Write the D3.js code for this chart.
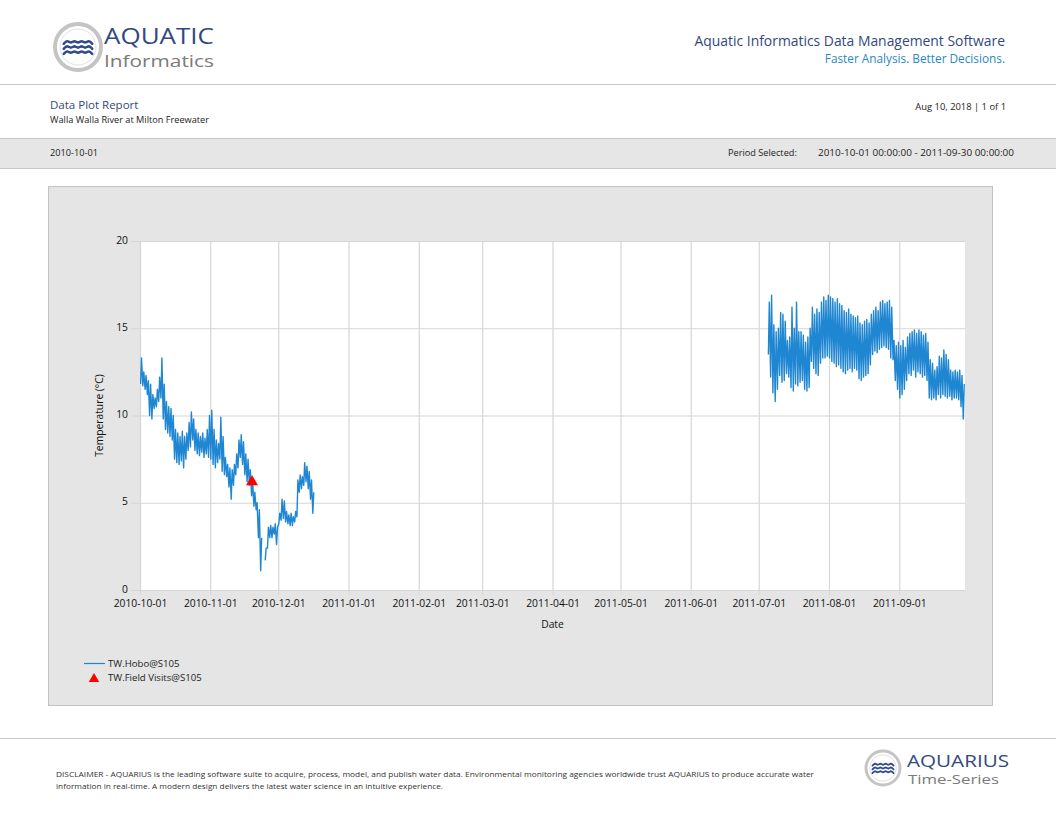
<!DOCTYPE html>
<html>
<head>
<meta charset="utf-8">
<script src="https://cdn.jsdelivr.net/npm/d3@7"></script>
<style>
  html, body { margin: 0; padding: 0; background: #fff; }
  svg { display: block; }
  text { font-family: "Open Sans", "Noto Sans", sans-serif; }
</style>
</head>
<body>
<div id="page"></div>
<script>
// TW.Hobo@S105, daily high / low (°C); null = no record
const fallStart = "2010-10-01";
const fallHigh = [13.3, 12.5, 12.3, 12.0, 11.8, 11.2, 11.0, 11.5, 12.2, 13.3,
  11.8, 10.8, 10.5, 10.4, 10.0, 9.2, 9.0, 8.8, 9.1, 8.8,
  9.0, 9.6, 10.2, 9.8, 9.2, 9.0, 8.8, 9.0, 8.7, 9.2,
  10.0, 10.3, 9.2, 8.6, 8.4, 9.9, 8.8, 7.6, 7.2, 7.0,
  6.9, 7.2, 7.8, 8.6, 8.9, 8.5, 7.8, 7.5, 6.9, 6.3,
  5.6, 5.0, 4.6, 3.0, null, 2.4, 3.6, 3.7, 3.6, 3.8,
  3.6, 4.4, 5.2, 5.1, 4.5, 4.3, 4.4, 4.2, 4.5, 6.3,
  6.6, 6.5, 7.3, 7.1, 6.8, 6.3, 5.6];
const fallLow = [11.8, 11.7, 11.5, 11.2, 10.0, 9.8, 10.4, 10.5, 10.8, 11.0,
  9.8, 9.2, 9.0, 8.8, 8.6, 7.5, 7.3, 7.2, 7.4, 7.0,
  7.5, 8.0, 8.2, 8.6, 8.0, 7.8, 7.7, 7.9, 7.6, 7.8,
  7.6, 7.5, 7.2, 7.0, 7.3, 7.5, 6.8, 6.6, 6.5, 5.9,
  5.2, 6.0, 6.6, 7.0, 7.6, 7.2, 6.6, 6.2, 6.0, 5.4,
  4.8, 4.6, 3.0, 1.1, null, 1.7, 2.4, 3.0, 3.0, 3.2,
  2.6, 3.8, 4.0, 4.1, 3.9, 3.8, 3.7, 3.7, 3.9, 4.2,
  5.6, 5.8, 6.0, 6.2, 5.8, 5.2, 4.4];

const summerStart = "2011-07-05";
const summerHigh = [16.5, 16.9, 15.2, 14.8, 15.0, 15.9, 15.8, 15.4, 14.3, 14.5,
  16.2, 15.0, 16.5, 14.8, 14.8, 14.6, 14.2, 14.5, 15.0, 16.2,
  15.8, 16.1, 15.9, 16.5, 16.8, 16.6, 16.9, 16.8, 16.7, 16.5,
  16.7, 16.4, 16.3, 16.0, 15.9, 16.1, 15.8, 15.7, 15.6, 15.7,
  15.3, 15.2, 15.4, 15.5, 15.3, 15.8, 16.0, 16.2, 16.0, 16.5,
  16.6, 16.4, 16.5, 16.6, 16.2, 14.3, 14.0, 14.2, 14.0, 14.3,
  13.9, 14.5, 14.7, 14.8, 14.9, 14.7, 14.9, 14.8, 14.6, 14.7,
  14.2, 13.2, 13.0, 12.6, 12.8, 13.4, 13.3, 13.75, 13.5, 13.2,
  12.6, 12.5, 12.6, 12.5, 12.6, 12.3, 11.8];
const summerLow = [13.5, 12.2, 11.3, 10.8, 11.5, 12.3, 11.9, 12.0, 12.4, 12.2,
  11.6, 11.4, 11.8, 11.7, 11.9, 12.0, 11.5, 11.4, 11.6, 13.1,
  12.7, 12.4, 12.3, 13.0, 13.3, 13.3, 13.4, 13.3, 13.1, 13.0,
  12.8, 12.9, 12.7, 12.5, 12.4, 12.6, 12.7, 12.5, 12.7, 12.6,
  12.1, 12.0, 12.2, 12.3, 12.4, 12.9, 13.5, 13.7, 13.6, 13.8,
  13.9, 14.0, 13.9, 13.8, 13.3, 13.2, 12.0, 11.5, 11.0, 11.2,
  11.5, 12.0, 12.4, 12.3, 12.6, 12.2, 12.5, 12.4, 12.2, 12.3,
  12.0, 11.0, 10.9, 11.0, 10.9, 11.2, 11.0, 11.2, 11.1, 11.0,
  11.1, 10.9, 11.0, 11.0, 10.9, 10.5, 9.8];

// TW.Field Visits@S105
const visitDates = ["2010-11-19T10:00"];
const visitValues = [6.2];

// axes
const periodStart = "2010-10-01";
const periodEnd = "2011-09-30";
const monthTicks = ["2010-10-01", "2010-11-01", "2010-12-01", "2011-01-01", "2011-02-01",
  "2011-03-01", "2011-04-01", "2011-05-01", "2011-06-01", "2011-07-01", "2011-08-01", "2011-09-01"];
const yTicks = [0, 5, 10, 15, 20];

const disclaimerLines = [
  "DISCLAIMER - AQUARIUS is the leading software suite to acquire, process, model, and publish water data. Environmental monitoring agencies worldwide trust AQUARIUS to produce accurate water",
  "information in real-time. A modern design delivers the latest water science in an intuitive experience."
];

// ---- page ----
const W = 1056, H = 816;
const navy = "#33487e", blue = "#1f86d2";
const parseDay = d3.utcParse("%Y-%m-%d");
const parseStamp = d3.utcParse("%Y-%m-%dT%H:%M");

const svg = d3.select("#page").append("svg")
  .attr("width", W).attr("height", H);

// logo: ring with three waves
function logo(g, cx, cy, r) {
  g.append("circle").attr("cx", cx).attr("cy", cy).attr("r", r)
    .attr("fill", "#fff").attr("stroke", "#c4c4c4").attr("stroke-width", r * 0.17);
  g.append("circle").attr("cx", cx).attr("cy", cy).attr("r", r * 0.78)
    .attr("fill", "none").attr("stroke", "#e2e2e2").attr("stroke-width", 1);
  const wave = d3.line().curve(d3.curveBasis);
  [-0.22, 0, 0.22].forEach(off => {
    const pts = d3.range(0, 9).map(i => [cx - r * 0.62 + i * r * 0.155, cy + off * r + (i % 2 ? -1 : 1) * r * 0.08]);
    g.append("path").attr("d", wave(pts)).attr("fill", "none")
      .attr("stroke", "#2e4a8c").attr("stroke-width", r * 0.11).attr("stroke-linecap", "round");
  });
}

const head = svg.append("g");
logo(head, 78, 47, 23);
head.append("text").attr("x", 104).attr("y", 44).text("AQUATIC")
  .attr("font-family", "'Liberation Serif', 'DejaVu Serif', serif").attr("font-size", 22)
  .attr("fill", navy).attr("textLength", 110).attr("lengthAdjust", "spacingAndGlyphs");
head.append("text").attr("x", 104).attr("y", 66.5).text("Informatics")
  .attr("font-family", "'Liberation Sans', sans-serif").attr("font-size", 16.5)
  .attr("fill", "#7a7a7a").attr("textLength", 110).attr("lengthAdjust", "spacingAndGlyphs");
head.append("text").attr("x", 1005).attr("y", 46).attr("text-anchor", "end")
  .text("Aquatic Informatics Data Management Software").attr("font-size", 13.9).attr("fill", navy);
head.append("text").attr("x", 1005).attr("y", 63).attr("text-anchor", "end")
  .text("Faster Analysis. Better Decisions.").attr("font-size", 11.8).attr("fill", "#2a88c2");
head.append("line").attr("x1", 0).attr("x2", W).attr("y1", 84.5).attr("y2", 84.5).attr("stroke", "#c6c6c6");

head.append("text").attr("x", 50).attr("y", 109).text("Data Plot Report").attr("font-size", 11.5).attr("fill", navy);
head.append("text").attr("x", 50).attr("y", 123).text("Walla Walla River at Milton Freewater")
  .attr("font-size", 9.2).attr("fill", "#222");
head.append("text").attr("x", 1006).attr("y", 110).attr("text-anchor", "end")
  .text("Aug 10, 2018 | 1 of 1").attr("font-size", 9.4).attr("fill", "#222");

head.append("rect").attr("x", -1).attr("y", 138.5).attr("width", W + 2).attr("height", 30)
  .attr("fill", "#e6e6e6").attr("stroke", "#c8c8c8");
head.append("text").attr("x", 50).attr("y", 156).text(periodStart).attr("font-size", 9.2).attr("fill", "#222");
head.append("text").attr("x", 728).attr("y", 156).text("Period Selected:").attr("font-size", 9.2).attr("fill", "#222");
head.append("text").attr("x", 818).attr("y", 156).text(periodStart + " 00:00:00 - " + periodEnd + " 00:00:00")
  .attr("font-size", 9.2).attr("fill", "#222").attr("textLength", 196).attr("lengthAdjust", "spacingAndGlyphs");

// ---- chart panel ----
svg.append("rect").attr("x", 48.5).attr("y", 186.5).attr("width", 944).attr("height", 519)
  .attr("fill", "#e5e5e5").attr("stroke", "#c2c2c2");

const plot = { left: 140, right: 965, top: 241, bottom: 590 };
const x = d3.scaleUtc().domain([parseDay(periodStart), parseDay(periodEnd)]).range([plot.left, plot.right]);
const y = d3.scaleLinear().domain([0, 20]).range([plot.bottom, plot.top]);

svg.append("rect").attr("x", plot.left).attr("y", plot.top)
  .attr("width", plot.right - plot.left).attr("height", plot.bottom - plot.top).attr("fill", "#fff");

const gridColor = "#d6d6d6";
const xAxis = svg.append("g").attr("transform", `translate(0,${plot.bottom})`)
  .call(d3.axisBottom(x).tickValues(monthTicks.map(parseDay))
    .tickFormat(d3.utcFormat("%Y-%m-%d")).tickSizeInner(-(plot.bottom - plot.top)).tickSizeOuter(0).tickPadding(10));
const yAxis = svg.append("g").attr("transform", `translate(${plot.left},0)`)
  .call(d3.axisLeft(y).tickValues(yTicks).tickSizeInner(-(plot.right - plot.left)).tickSizeOuter(0).tickPadding(12));
[xAxis, yAxis].forEach(a => {
  a.select(".domain").remove();
  a.selectAll(".tick line").attr("stroke", gridColor).attr("stroke-width", 1.2);
  a.selectAll(".tick text").attr("font-size", 10.3).attr("fill", "#111")
    .attr("font-family", "'Open Sans', sans-serif");
});
yAxis.selectAll(".tick text").attr("dy", "0.2em");
// short outer tick marks
yAxis.selectAll(".tick").append("line").attr("x1", -9).attr("x2", 0).attr("stroke", gridColor);
xAxis.selectAll(".tick").append("line").attr("y1", 0).attr("y2", 5).attr("stroke", gridColor);

svg.append("text").attr("x", (plot.left + plot.right) / 2).attr("y", 628).attr("text-anchor", "middle")
  .text("Date").attr("font-size", 10.3).attr("fill", "#111");
svg.append("text").attr("transform", `translate(103,${(plot.top + plot.bottom) / 2}) rotate(-90)`)
  .attr("text-anchor", "middle").text("Temperature (°C)").attr("font-size", 10.3).attr("fill", "#111");

// diurnal trace: daily low near dawn, daily high in late afternoon
function dailyTrace(start, high, low) {
  const t0 = parseDay(start);
  const pts = [];
  high.forEach((h, i) => {
    const day = d3.utcDay.offset(t0, i);
    pts.push({ t: d3.utcHour.offset(day, 6), v: low[i] });
    pts.push({ t: d3.utcHour.offset(day, 16), v: h });
  });
  return pts;
}

const line = d3.line()
  .defined(d => d.v != null)
  .x(d => x(d.t)).y(d => y(d.v));

svg.append("clipPath").attr("id", "plotClip").append("rect")
  .attr("x", plot.left).attr("y", plot.top - 2).attr("width", plot.right - plot.left).attr("height", plot.bottom - plot.top + 2);

const series = svg.append("g").attr("clip-path", "url(#plotClip)");
[dailyTrace(fallStart, fallHigh, fallLow), dailyTrace(summerStart, summerHigh, summerLow)].forEach(pts => {
  series.append("path").datum(pts).attr("d", line)
    .attr("fill", "none").attr("stroke", blue).attr("stroke-width", 1.4).attr("stroke-linejoin", "round");
});

const tri = d3.symbol().type(d3.symbolTriangle).size(62);
svg.append("g").selectAll("path").data(visitDates.map((d, i) => ({ t: parseStamp(d), v: visitValues[i] })))
  .join("path")
  .attr("transform", d => `translate(${x(d.t)},${y(d.v)})`)
  .attr("d", tri).attr("fill", "#f00");

// legend
const legend = svg.append("g");
legend.append("line").attr("x1", 84).attr("x2", 105).attr("y1", 663.5).attr("y2", 663.5).attr("stroke", blue).attr("stroke-width", 1.2);
legend.append("text").attr("x", 108).attr("y", 667).text("TW.Hobo@S105").attr("font-size", 9.6).attr("fill", "#222");
legend.append("path").attr("transform", "translate(94,679)").attr("d", d3.symbol().type(d3.symbolTriangle).size(48)).attr("fill", "#f00");
legend.append("text").attr("x", 108).attr("y", 681).text("TW.Field Visits@S105").attr("font-size", 9.6).attr("fill", "#222");

// ---- footer ----
const foot = svg.append("g");
foot.append("line").attr("x1", 0).attr("x2", W).attr("y1", 738.5).attr("y2", 738.5).attr("stroke", "#c6c6c6");
foot.selectAll("text.disc").data(disclaimerLines).join("text").attr("class", "disc")
  .attr("x", 56).attr("y", (d, i) => 777 + i * 12).text(d => d)
  .attr("font-size", 7.6).attr("fill", "#333")
  .attr("textLength", (d, i) => i === 0 ? 758 : 387).attr("lengthAdjust", "spacingAndGlyphs");
logo(foot, 883, 768, 17);
foot.append("text").attr("x", 907).attr("y", 767).text("AQUARIUS")
  .attr("font-family", "'Liberation Serif', 'DejaVu Serif', serif").attr("font-size", 17)
  .attr("fill", navy).attr("textLength", 102).attr("lengthAdjust", "spacingAndGlyphs");
foot.append("text").attr("x", 908).attr("y", 784).text("Time-Series")
  .attr("font-size", 13).attr("fill", "#7a7a7a").attr("textLength", 91).attr("lengthAdjust", "spacingAndGlyphs");
</script>
</body>
</html>
